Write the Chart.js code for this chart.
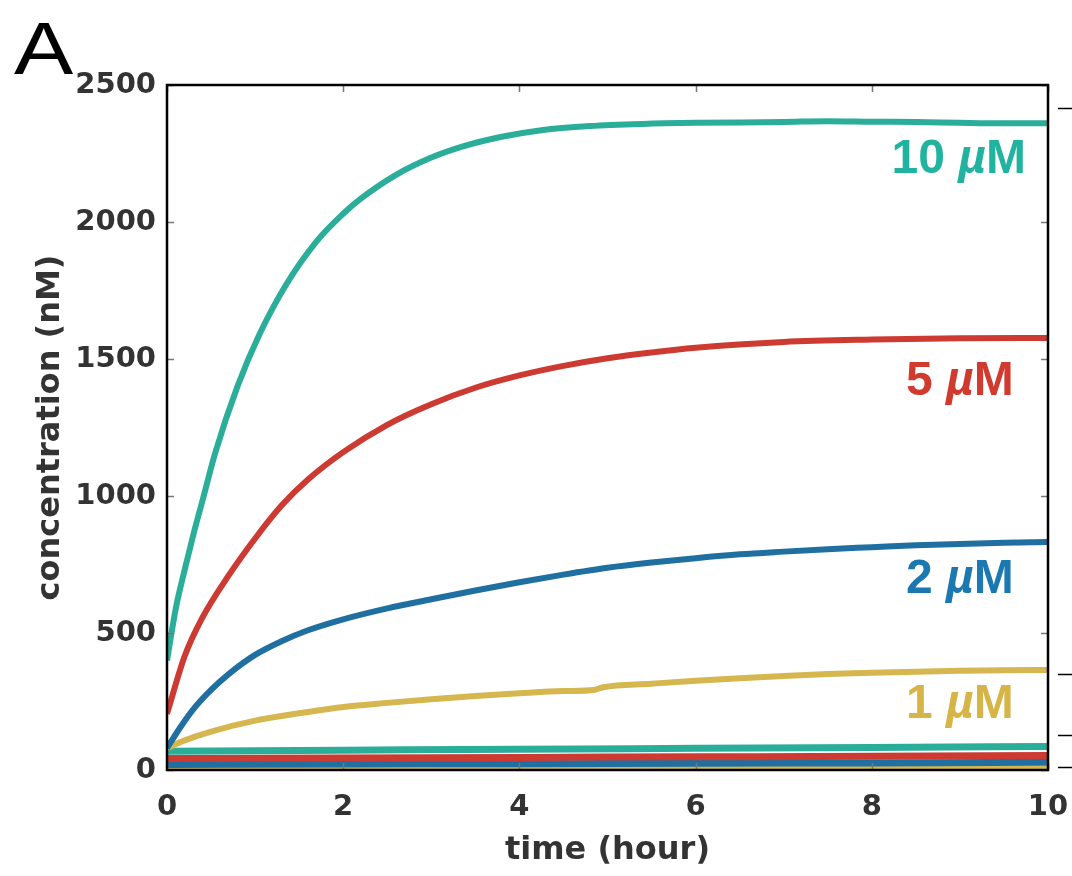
<!DOCTYPE html>
<html>
<head>
<meta charset="utf-8">
<script src="https://cdn.jsdelivr.net/npm/chart.js@4.4.0/dist/chart.umd.min.js"></script>
<style>
  html, body { margin: 0; padding: 0; background: #fff; }
  canvas { display: block; }
</style>
</head>
<body>
<canvas id="kinetics" width="1072" height="876" style="width:1072px;height:876px"></canvas>
<script>
// values (time in hours, concentration in nM)
const hours10 = [0, 0.1, 0.2, 0.3, 0.4, 0.55, 0.8, 1.05, 1.35, 1.7, 2.0, 2.2, 2.6, 3.0, 3.35, 3.8, 4.25, 4.8, 5.4, 6.0, 7.0, 7.5, 8.0, 8.5, 9.0, 9.5, 10];
const conc10  = [400, 590, 730, 860, 980, 1160, 1400, 1590, 1770, 1930, 2030, 2085, 2172, 2235, 2275, 2311, 2335, 2350, 2358, 2362, 2365, 2368, 2366, 2365, 2362, 2360, 2360];

const hours5 = [0, 0.2, 0.4, 0.7, 1.0, 1.3, 1.6, 2.0, 2.5, 3.0, 3.5, 4.0, 4.5, 5.0, 5.5, 6.0, 7.0, 8.0, 9.0, 10];
const conc5  = [205, 415, 555, 710, 845, 965, 1060, 1160, 1260, 1335, 1395, 1440, 1475, 1503, 1524, 1541, 1562, 1571, 1576, 1577];

const hours2 = [0, 0.15, 0.3, 0.5, 0.7, 1.0, 1.3, 1.6, 2.0, 2.5, 3.0, 3.5, 4.0, 4.5, 5.0, 5.5, 6.0, 6.5, 7.0, 7.5, 8.0, 8.5, 9.0, 9.5, 10];
const conc2  = [80, 155, 222, 292, 350, 420, 470, 510, 550, 590, 623, 655, 685, 713, 738, 757, 773, 787, 797, 806, 813, 820, 825, 829, 832];

const hours1 = [0, 0.2, 0.5, 1.0, 1.5, 2.0, 2.5, 3.0, 3.5, 4.0, 4.5, 4.85, 4.95, 5.5, 6.0, 6.5, 7.0, 7.5, 8.0, 8.5, 9.0, 9.5, 10];
const conc1  = [80, 108, 140, 180, 207, 230, 245, 258, 270, 280, 288, 292, 302, 315, 326, 335, 343, 350, 355, 359, 362, 364, 365];

// control traces along the bottom
const baseHours = [0, 2, 4, 6, 8, 10];
const base10 = [68, 72, 76, 79, 82, 86];
const base5  = [42, 44, 46, 48, 50, 53];
const base2  = [20, 22, 23, 25, 26, 28];
const base1  = [5, 6, 6, 7, 7, 8];

const doseLabels = ["10 µM", "5 µM", "2 µM", "1 µM"];
const xTicks = [0, 2, 4, 6, 8, 10];
const yTicks = [0, 500, 1000, 1500, 2000, 2500];

const TEAL = "#2BAE99", RED = "#CC3A32", BLUE = "#1F6FA0", GOLD = "#D5B64F";
const TEXT_COLORS = ["#22B3A0", "#D13A2F", "#1C78B0", "#D6B448"];

function pts(xs, ys) {
  return xs.map((h, i) => ({ x: h, y: ys[i] }));
}

function trace(xs, ys, color, width) {
  return {
    data: pts(xs, ys),
    borderColor: color,
    borderWidth: width,
    pointRadius: 0,
    fill: false,
    cubicInterpolationMode: "monotone",
  };
}

const axisFont = { family: "'DejaVu Sans'", weight: "bold", size: 29 };
const titleFont = { family: "'DejaVu Sans'", weight: "bold", size: 32 };

// inner tick marks, plot frame, stray marks at the right, panel letter
const frame = {
  id: "frame",
  afterDraw(chart) {
    const { ctx, chartArea: a, scales: { x, y } } = chart;
    const seg = (x1, y1, x2, y2) => {
      ctx.beginPath();
      ctx.moveTo(x1, y1);
      ctx.lineTo(x2, y2);
      ctx.stroke();
    };
    ctx.save();
    ctx.strokeStyle = "#777";
    ctx.lineWidth = 1.5;
    y.ticks.forEach((t) => {
      const py = Math.round(y.getPixelForValue(t.value)) + 0.5;
      seg(a.left, py, a.left + 7, py);
      seg(a.right - 7, py, a.right, py);
    });
    x.ticks.forEach((t) => {
      const px = Math.round(x.getPixelForValue(t.value)) + 0.5;
      seg(px, a.top, px, a.top + 7);
      seg(px, a.bottom - 7, px, a.bottom);
    });
    ctx.strokeStyle = "#000";
    ctx.lineWidth = 2.5;
    ctx.strokeRect(a.left, a.top, a.width, a.height);

    ctx.lineWidth = 1.5;
    [2416, 350, 128, 11].forEach((v) => {
      const py = Math.round(y.getPixelForValue(v)) + 0.5;
      seg(a.right + 10, py, chart.width, py);
    });

    ctx.fillStyle = "#000";
    ctx.font = "74px 'Liberation Sans'";
    ctx.textBaseline = "alphabetic";
    ctx.translate(14, 74);
    ctx.scale(1.2, 1);
    ctx.fillText("A", 0, 0);
    ctx.restore();
  },
};

// dose labels next to each trace, with an italic mu
const doseText = {
  id: "doseText",
  afterDatasetsDraw(chart) {
    const { ctx, scales: { x, y } } = chart;
    const spots = [[9.75, 2179], [9.61, 1369], [9.61, 646], [9.61, 190]];
    const up = "bold 48px 'Liberation Sans'";
    const it = "italic bold 48px 'Liberation Sans'";
    ctx.save();
    ctx.textBaseline = "alphabetic";
    ctx.textAlign = "left";
    doseLabels.forEach((lab, i) => {
      const num = lab.split(" ")[0] + " ";
      ctx.font = up;
      const wNum = ctx.measureText(num).width;
      const wM = ctx.measureText("M").width;
      ctx.font = it;
      const wMu = ctx.measureText("µ").width;
      const right = x.getPixelForValue(spots[i][0]);
      const base = y.getPixelForValue(spots[i][1]);
      let cx = right - wNum - wMu - wM;
      ctx.fillStyle = TEXT_COLORS[i];
      ctx.font = up;
      ctx.fillText(num, cx, base);
      cx += wNum;
      ctx.font = it;
      ctx.fillText("µ", cx, base);
      cx += wMu;
      ctx.font = up;
      ctx.fillText("M", cx, base);
    });
    ctx.restore();
  },
};

new Chart(document.getElementById("kinetics"), {
  type: "line",
  data: {
    datasets: [
      trace(hours10, conc10, TEAL, 6),
      trace(hours5, conc5, RED, 6),
      trace(hours2, conc2, BLUE, 6),
      trace(hours1, conc1, GOLD, 6),
      trace(baseHours, base10, TEAL, 7),
      trace(baseHours, base5, RED, 7),
      trace(baseHours, base2, BLUE, 7),
      trace(baseHours, base1, GOLD, 4),
    ],
  },
  options: {
    responsive: false,
    animation: false,
    devicePixelRatio: 1,
    layout: { padding: { top: 85, right: 24, left: 0, bottom: 0 } },
    plugins: {
      legend: { display: false },
      tooltip: { enabled: false },
    },
    scales: {
      x: {
        type: "linear",
        min: 0,
        max: 10,
        border: { display: false },
        grid: { display: false, drawTicks: false },
        afterBuildTicks: (s) => { s.ticks = xTicks.map((v) => ({ value: v })); },
        ticks: { padding: 20, color: "#333", font: axisFont, maxRotation: 0, autoSkip: false, callback: (v) => String(v) },
        title: { display: true, text: "time (hour)", color: "#333", font: titleFont, padding: { top: 0, bottom: 6 } },
        afterFit: (s) => { s.height = 106; s.paddingLeft = 0; s.paddingRight = 0; },
      },
      y: {
        type: "linear",
        min: 0,
        max: 2500,
        border: { display: false },
        grid: { display: false, drawTicks: false },
        afterBuildTicks: (s) => { s.ticks = yTicks.map((v) => ({ value: v })); },
        ticks: { padding: 11, color: "#333", font: axisFont, autoSkip: false, callback: (v) => String(v) },
        title: { display: true, text: "concentration (nM)", color: "#333", font: titleFont, padding: { top: 31, bottom: 0 } },
        afterFit: (s) => { s.width = 167; s.paddingTop = 0; s.paddingBottom = 0; },
      },
    },
  },
  plugins: [frame, doseText],
});
</script>
</body>
</html>
